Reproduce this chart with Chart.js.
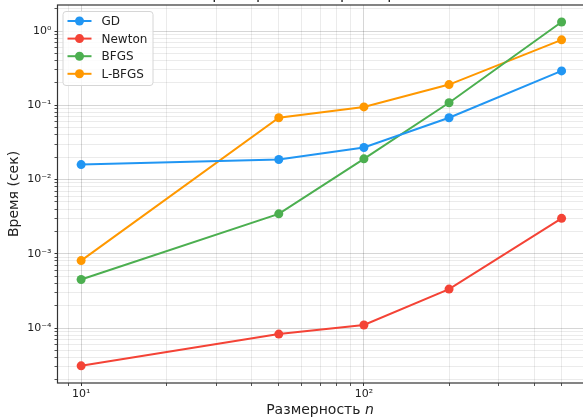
<!DOCTYPE html>
<html>
<head>
<meta charset="utf-8">
<script src="https://cdn.jsdelivr.net/npm/chart.js@4.4.0/dist/chart.umd.min.js"></script>
<style>
    html, body { margin: 0; padding: 0; background: #fff; overflow: hidden; }
    body { width: 583px; height: 418px; position: relative; }
    #wrap { position: absolute; left: 0; top: -22px; width: 620px; height: 440px; }
</style>
</head>
<body>
<div id="wrap"><canvas id="timeChart"></canvas></div>
<script>
// Problem sizes and timings (seconds)
const sizes = [10, 50, 100, 200, 500];
const gdTimes = [0.0159, 0.0186, 0.027, 0.068, 0.29];
const newtonTimes = [0.000031, 0.000083, 0.00011, 0.000335, 0.0030];
const bfgsTimes = [0.00045, 0.00345, 0.019, 0.108, 1.32];
const lbfgsTimes = [0.00081, 0.068, 0.095, 0.19, 0.76];

const methodNames = ['GD', 'Newton', 'BFGS', 'L-BFGS'];
const methodColors = ['#2196F3', '#F44336', '#4CAF50', '#FF9800'];

// Tick positions (major + minor) for the log axes
const xTickValues = [9, 10, 20, 30, 40, 50, 60, 70, 80, 90, 100, 200, 300, 400, 500, 600];
const yTickValues = [
    2e-5, 3e-5, 4e-5, 5e-5, 6e-5, 7e-5, 8e-5, 9e-5,
    1e-4, 2e-4, 3e-4, 4e-4, 5e-4, 6e-4, 7e-4, 8e-4, 9e-4,
    1e-3, 2e-3, 3e-3, 4e-3, 5e-3, 6e-3, 7e-3, 8e-3, 9e-3,
    1e-2, 2e-2, 3e-2, 4e-2, 5e-2, 6e-2, 7e-2, 8e-2, 9e-2,
    1e-1, 2e-1, 3e-1, 4e-1, 5e-1, 6e-1, 7e-1, 8e-1, 9e-1,
    1, 2
];

const FONT = "'DejaVu Sans', sans-serif";

function isPow10(v) {
    const e = Math.log10(v);
    return Math.abs(e - Math.round(e)) < 1e-9;
}

function superscript(n) {
    const map = {'-': '\u207B', '0': '\u2070', '1': '\u00B9', '2': '\u00B2', '3': '\u00B3',
        '4': '\u2074', '5': '\u2075', '6': '\u2076', '7': '\u2077', '8': '\u2078', '9': '\u2079'};
    return String(n).split('').map(c => map[c]).join('');
}

function powLabel(v) {
    return isPow10(v) ? '10' + superscript(Math.round(Math.log10(v))) : '';
}

const allTimes = [gdTimes, newtonTimes, bfgsTimes, lbfgsTimes];

// Frame, title, x label and matplotlib-like legend
const decorPlugin = {
    id: 'decor',
    afterDatasetsDraw(chart) {
        const {ctx, chartArea: a} = chart;
        ctx.save();
        ctx.strokeStyle = '#333';
        ctx.lineWidth = 1.2;
        ctx.strokeRect(a.left, a.top, a.right - a.left, a.bottom - a.top);
        ctx.restore();
    },
    afterDraw(chart) {
        const {ctx, chartArea: a} = chart;
        const cx = (a.left + a.right) / 2;
        ctx.save();
        ctx.fillStyle = '#222';
        // title (mostly above the visible window)
        ctx.font = '15px ' + FONT;
        ctx.textAlign = 'center';
        ctx.textBaseline = 'alphabetic';
        ctx.fillText('Время работы vs размерность', cx, a.top - 6);

        // x axis label with italic n
        ctx.font = '14px ' + FONT;
        const t1 = 'Размерность ';
        const w1 = ctx.measureText(t1).width;
        ctx.font = 'italic 14px ' + FONT;
        const w2 = ctx.measureText('n').width;
        const x0 = 320 - (w1 + w2) / 2;
        const y0 = a.bottom + 31;
        ctx.textAlign = 'left';
        ctx.font = '14px ' + FONT;
        ctx.fillText(t1, x0, y0);
        ctx.font = 'italic 14px ' + FONT;
        ctx.fillText('n', x0 + w1, y0);

        // legend
        const lx = a.left + 5, ly = a.top + 6, lw = 90, lh = 74;
        ctx.fillStyle = 'rgba(255,255,255,0.85)';
        ctx.strokeStyle = '#d6d6d6';
        ctx.lineWidth = 1;
        ctx.beginPath();
        ctx.roundRect(lx + 0.5, ly + 0.5, lw, lh, 3);
        ctx.fill();
        ctx.stroke();
        ctx.font = '12px ' + FONT;
        ctx.textBaseline = 'middle';
        chart.data.datasets.forEach((ds, i) => {
            const y = ly + 10 + i * 17.6;
            ctx.strokeStyle = ds.borderColor;
            ctx.lineWidth = 2;
            ctx.beginPath();
            ctx.moveTo(lx + 5, y);
            ctx.lineTo(lx + 29, y);
            ctx.stroke();
            ctx.fillStyle = ds.borderColor;
            ctx.beginPath();
            ctx.arc(lx + 17, y, 4.5, 0, Math.PI * 2);
            ctx.fill();
            ctx.fillStyle = '#222';
            ctx.fillText(ds.label, lx + 39, y + 1);
        });
        ctx.restore();
    }
};

function gridColor(c) {
    return isPow10(c.tick.value) ? 'rgba(0,0,0,0.16)' : 'rgba(0,0,0,0.08)';
}

const chart = new Chart(document.getElementById('timeChart'), {
    type: 'line',
    data: {
        datasets: methodNames.map((name, i) => ({
            label: name,
            data: sizes.map((n, j) => ({x: n, y: allTimes[i][j]})),
            borderColor: methodColors[i],
            backgroundColor: methodColors[i],
            borderWidth: 2,
            pointRadius: 4.5,
            pointHoverRadius: 4.5,
            pointBorderWidth: 0,
            tension: 0
        }))
    },
    options: {
        responsive: true,
        maintainAspectRatio: false,
        animation: false,
        layout: { padding: { top: 27, left: 0, right: 34, bottom: 0 } },
        plugins: {
            legend: { display: false },
            tooltip: { enabled: false }
        },
        scales: {
            x: {
                type: 'logarithmic',
                min: 8.25,
                max: 610,
                afterBuildTicks: s => { s.ticks = xTickValues.map(v => ({value: v})); },
                afterFit: s => { s.height = 35; },
                border: { display: false },
                grid: {
                    color: gridColor,
                    tickColor: c => isPow10(c.tick.value) ? '#333' : '#555',
                    tickLength: 3,
                    lineWidth: 1
                },
                ticks: {
                    autoSkip: false,
                    maxRotation: 0,
                    padding: 2,
                    color: '#222',
                    font: { family: FONT, size: 11 },
                    callback: v => powLabel(v)
                }
            },
            y: {
                type: 'logarithmic',
                min: 1.82e-5,
                max: 2.24,
                afterBuildTicks: s => { s.ticks = yTickValues.map(v => ({value: v})); },
                afterFit: s => { s.width = 57.5; },
                border: { display: false },
                grid: {
                    color: gridColor,
                    tickColor: c => isPow10(c.tick.value) ? '#333' : '#555',
                    tickLength: 3,
                    lineWidth: 1
                },
                ticks: {
                    autoSkip: false,
                    padding: 3,
                    color: '#222',
                    font: { family: FONT, size: 11 },
                    callback: v => powLabel(v)
                },
                title: {
                    display: true,
                    text: 'Время (сек)',
                    color: '#222',
                    font: { family: FONT, size: 14 },
                    padding: { top: 6, bottom: 0 }
                }
            }
        }
    },
    plugins: [decorPlugin]
});
</script>
</body>
</html>
